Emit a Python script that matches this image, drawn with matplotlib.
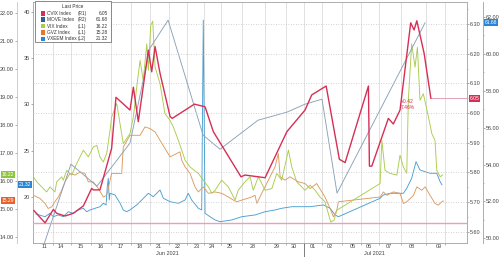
import matplotlib
matplotlib.use("Agg")
import matplotlib.pyplot as plt
import matplotlib.transforms as mtransforms
from matplotlib.patches import Rectangle
from matplotlib.ticker import FixedLocator, MultipleLocator, FormatStrFormatter

plt.rcParams["font.family"] = ["Liberation Sans", "DejaVu Sans"]

# x axis: trading-session time in day units from the left edge of the chart
day_ticks = [0.56, 1.42, 2.43, 3.44, 4.46, 5.42, 6.38, 7.34, 8.30, 9.06, 9.97,
             11.14, 12.35, 13.22, 14.18, 15.04, 16.20, 17.01, 18.03, 19.19, 20.56]
day_labels = ["11", "14", "15", "16", "17", "18", "21", "22", "23", "24", "25",
              "28", "29", "30", "01", "02", "05", "06", "07", "08", "09"]
month_labels = ["Jun 2021", "Jul 2021"]
month_centres = [6.78, 17.27]
month_break = 13.70
x_end = 21.97

# CVIX Index (R1)
cvix_x = [0.05, 0.61, 1.03, 1.20, 1.62, 2.04, 2.55, 2.97, 3.05, 3.39, 3.98, 4.20,
          4.91, 5.08, 5.33, 5.84, 6.01, 6.18, 6.43, 6.94, 7.05, 8.17, 8.71, 9.13,
          10.53, 10.73, 11.75, 12.85, 13.77, 14.11, 14.84, 15.51, 15.80, 16.98,
          17.03, 17.15, 17.99, 18.24, 18.58, 19.12, 19.29, 19.43, 19.80, 20.14]
cvix_y = [5.671, 5.630, 5.675, 5.662, 5.653, 5.662, 5.687, 5.746, 5.741, 5.741,
          5.881, 6.053, 6.010, 6.087, 5.971, 6.212, 6.139, 6.224, 6.134, 5.988,
          5.982, 6.030, 6.021, 5.937, 5.785, 5.791, 5.782, 5.937, 6.010, 6.061,
          6.091, 5.844, 5.833, 6.091, 5.821, 5.821, 5.982, 5.963, 6.010, 6.304,
          6.280, 6.311, 6.201, 6.05]
cvix_base = 5.63

# MOVE Index (R2) - daily closes
move_x = [0.51, 1.92, 3.24, 4.91, 5.92, 6.84, 8.61, 9.47, 11.39, 12.86, 13.77,
          14.63, 15.39, 19.85]
move_y = [49.53, 54.02, 52.83, 55.16, 60.30, 61.82, 55.59, 54.83, 56.40, 56.84,
          57.27, 57.54, 52.45, 61.68]

# VIX Index (L1)
vix_x = [0.02, 0.19, 0.44, 0.69, 0.86, 1.11, 1.20, 1.45, 1.53, 1.71, 1.96, 2.21,
         2.38, 2.55, 2.80, 3.05, 3.23, 3.39, 3.56, 3.73, 3.90, 3.98, 4.24, 4.57,
         4.91, 5.08, 5.25, 5.42, 5.58, 5.76, 5.84, 5.96, 6.06, 6.18, 6.43, 6.68,
         6.94, 7.10, 7.36, 7.53, 7.70, 7.95, 8.37, 8.62, 8.88, 9.05, 9.22, 9.55,
         9.89, 10.23, 10.39, 10.73, 10.99, 11.15, 11.41, 11.75, 12.09, 12.34,
         12.59, 12.93, 13.10, 13.35, 13.77, 14.03, 14.28, 14.53, 14.78, 14.95,
         15.07, 15.24, 15.38, 17.57, 17.66, 17.82, 18.08, 18.42, 18.58, 18.75,
         18.92, 19.00, 19.17, 19.34, 19.46, 19.59, 19.76, 20.02, 20.19, 20.35,
         20.44, 20.61, 20.74]
vix_y = [16.15, 15.97, 15.79, 15.61, 15.79, 15.61, 15.97, 16.15, 16.03, 16.38,
         16.21, 16.62, 16.86, 17.10, 16.86, 17.21, 17.27, 16.86, 16.68, 16.98,
         17.81, 18.28, 18.76, 17.33, 17.69, 18.28, 19.35, 20.30, 19.59, 20.89,
         19.94, 21.54, 21.70, 20.06, 19.47, 18.40, 18.16, 17.93, 17.45, 17.10,
         16.74, 16.50, 16.27, 16.03, 15.79, 15.56, 15.67, 16.03, 15.79, 15.32,
         15.67, 15.97, 16.15, 15.67, 16.15, 15.67, 15.73, 16.27, 16.03, 17.10,
         16.50, 15.97, 15.67, 15.85, 15.67, 15.43, 15.26, 14.84, 14.54, 14.60,
         14.96, 15.91, 17.45, 16.38, 16.27, 16.21, 16.92, 16.50, 16.27, 18.88,
         20.89, 20.06, 20.77, 18.88, 19.11, 18.28, 17.69, 17.45, 16.38, 16.15,
         16.22]

# GVZ Index (L1)
gvz_x = [0.02, 0.35, 0.61, 0.77, 0.95, 1.11, 1.28, 1.45, 1.62, 1.87, 2.13, 2.38,
         2.63, 2.80, 3.05, 3.31, 3.56, 3.73, 3.98, 4.49, 4.57, 4.91, 5.42, 5.67,
         5.92, 6.18, 6.43, 6.68, 6.94, 7.44, 7.53, 7.70, 7.95, 8.20, 8.37, 8.62,
         8.88, 9.22, 9.55, 9.89, 10.14, 10.31, 11.07, 11.24, 11.33, 11.58, 12.25,
         12.42, 12.51, 12.76, 13.01, 13.43, 13.77, 14.03, 14.36, 14.62, 14.78,
         15.04, 15.21, 15.38, 15.46, 17.57, 17.74, 17.91, 18.24, 18.58, 18.75,
         18.92, 19.26, 19.43, 19.68, 19.85, 20.10, 20.35, 20.52, 20.69, 20.77]
gvz_y = [15.49, 15.38, 15.20, 15.02, 15.08, 15.26, 15.43, 15.67, 15.97, 16.27,
         16.21, 16.32, 16.27, 15.97, 15.97, 15.73, 15.43, 15.49, 16.27, 16.27,
         17.21, 17.63, 17.63, 17.93, 17.87, 17.75, 17.45, 17.16, 16.86, 17.04,
         16.74, 16.50, 16.27, 15.79, 15.61, 15.79, 15.56, 15.61, 15.56, 15.43,
         15.32, 15.26, 15.43, 15.49, 15.20, 15.56, 16.50, 16.98, 16.15, 16.03,
         16.15, 15.97, 15.91, 15.73, 15.91, 15.61, 15.43, 15.02, 14.72, 14.96,
         15.26, 15.43, 15.61, 15.49, 15.61, 15.56, 15.20, 15.26, 15.49, 15.79,
         15.67, 15.79, 15.49, 15.20, 15.14, 15.26, 15.29]

# VXEEM Index (L2)
vxeem_x = [0.15, 0.61, 0.86, 1.03, 1.28, 1.53, 1.79, 2.04, 2.29, 2.55, 2.72, 2.89,
           3.14, 3.39, 3.56, 3.70, 3.76, 3.81, 3.86, 3.90, 4.15, 4.41, 4.57, 4.74,
           4.91, 5.25, 5.42, 5.84, 6.09, 6.43, 6.60, 6.94, 7.36, 7.70, 7.86, 8.03,
           8.37, 8.54, 8.62, 8.71, 8.96, 9.22, 9.47, 10.06, 10.57, 11.24, 11.75,
           12.25, 12.59, 13.10, 13.77, 14.03, 14.70, 15.04, 15.29, 15.46, 17.57,
           17.74, 18.08, 18.42, 18.75, 18.92, 19.17, 19.39, 19.59, 19.85, 20.10,
           20.44, 20.61, 20.70]
vxeem_y = [18.16, 17.87, 18.24, 17.87, 18.06, 17.87, 18.41, 18.24, 18.60, 18.78,
           18.41, 18.60, 18.78, 18.95, 19.32, 19.14, 21.11, 22.02, 19.68, 20.40,
           20.22, 19.32, 18.60, 18.41, 18.60, 19.14, 19.49, 20.40, 20.03, 20.76,
           19.86, 19.49, 19.32, 19.68, 20.40, 19.68, 18.78, 18.60, 39.11, 18.24,
           17.87, 17.52, 17.33, 17.52, 17.87, 18.06, 18.41, 18.60, 18.78, 18.95,
           18.95, 18.95, 19.14, 18.78, 18.06, 17.87, 19.86, 20.22, 20.40, 20.40,
           20.40, 20.94, 22.02, 23.81, 22.92, 22.73, 22.56, 22.56, 21.65, 21.32]

legend_names = ["CVIX Index", "MOVE Index", "VIX Index", "GVZ Index", "VXEEM Index"]
legend_axes = ["(R1)", "(R2)", "(L1)", "(L1)", "(L2)"]
legend_last = ["6.05", "61.68", "16.22", "15.28", "21.32"]

C_CVIX = "#d62f55"
C_MOVE = "#8ba1b7"
C_MOVE_KEY = "#2f5f9f"
C_VIX = "#a9cc4c"
C_VIX_TAG = "#8cc63e"
C_GVZ = "#dd9a5e"
C_GVZ_KEY = "#e8772a"
C_GVZ_TAG = "#e8602c"
C_VXEEM = "#4a9fd2"
C_VXEEM_TAG = "#2a85d4"
C_PINK = "#e6a3b4"
FS = 4.0

fig = plt.figure(figsize=(5.0, 2.57), dpi=100)
fig.patch.set_facecolor("white")
ax = fig.add_axes([0.066, 0.0545, 0.868, 0.9375])   # L2 (inner left)
ax_l1 = ax.twinx()                                     # L1 (outer left)
ax_r2 = ax.twinx()                                     # R2 (outer right)
ax_r1 = ax.twinx()                                     # R1 (inner right)

ax.set_xlim(0, x_end)
ax.set_ylim(15.03, 41.06)
ax_l1.set_ylim(13.79, 22.38)
ax_r1.set_ylim(5.562, 6.374)
ax_r2.set_ylim(49.75, 62.80)

# spines
for a in (ax_l1, ax_r1, ax_r2):
    for s in a.spines.values():
        s.set_visible(False)
for s in ax.spines.values():
    s.set_color("#a0a0a0")
    s.set_linewidth(0.6)
ax_l1.yaxis.tick_left()
ax_l1.spines["left"].set_visible(True)
ax_l1.spines["left"].set_position(("outward", 11.5))
ax_l1.spines["left"].set_color("#c9d27e")
ax_l1.spines["left"].set_linewidth(0.6)
ax_r1.spines["right"].set_visible(True)
ax_r1.spines["right"].set_color("#c9a3ae")
ax_r1.spines["right"].set_linewidth(0.6)
ax_r2.spines["right"].set_visible(True)
ax_r2.spines["right"].set_position(("outward", 11.5))
ax_r2.spines["right"].set_color("#8fa3b5")
ax_r2.spines["right"].set_linewidth(0.6)

# y ticks
ax.yaxis.set_major_locator(FixedLocator([20, 25, 30, 35, 40]))
ax.yaxis.set_major_formatter(FormatStrFormatter("%d"))
ax_l1.yaxis.set_major_locator(MultipleLocator(1))
ax_l1.yaxis.set_major_formatter(FormatStrFormatter("%.2f"))
ax_r1.yaxis.set_major_locator(MultipleLocator(0.1))
ax_r1.yaxis.set_minor_locator(MultipleLocator(0.05))
ax_r1.yaxis.set_major_formatter(FormatStrFormatter("%.2f"))
ax_r2.yaxis.set_major_locator(MultipleLocator(2))
ax_r2.yaxis.set_minor_locator(MultipleLocator(1))
ax_r2.yaxis.set_major_formatter(FormatStrFormatter("%.2f"))
for a in (ax, ax_l1, ax_r1, ax_r2):
    a.tick_params(axis="y", which="major", labelsize=FS, length=1.5, width=0.5,
                  pad=0.8, colors="#888888", labelcolor="#444444")
    a.tick_params(axis="y", which="minor", length=1.0, width=0.4, colors="#888888")

# x ticks
ax.set_xticks(day_ticks)
ax.set_xticklabels(day_labels)
grid_x = [(a + b) / 2 for a, b in zip(day_ticks[:-1], day_ticks[1:])] + [20.86]
ax.set_xticks(grid_x, minor=True)
ax.tick_params(axis="x", which="major", length=0, labelsize=FS, pad=1.0,
               labelcolor="#444444")
ax.tick_params(axis="x", which="minor", length=1.5, width=0.5, colors="#999999")
xt = mtransforms.blended_transform_factory(ax.transData, ax.transAxes)
for lab, xc in zip(month_labels, month_centres):
    ax.text(xc, -0.034, lab, transform=xt, ha="center", va="top", fontsize=FS,
            color="#444444")
ax.plot([month_break, month_break], [0, -0.07], transform=xt, clip_on=False,
        color="#666666", lw=0.6)

# grid
for gx in grid_x:
    ax.axvline(gx, color="#dcdcdc", lw=0.6, zorder=0)
for gy in [5.6, 5.7, 5.8, 5.9, 6.0, 6.1, 6.2, 6.3]:
    ax_r1.axhline(gy, color="#c4c4c4", lw=0.6, ls=(0, (1, 2)), zorder=0)

# series
ax.plot(vxeem_x, vxeem_y, color=C_VXEEM, lw=0.65)
ax_l1.plot(gvz_x, gvz_y, color=C_GVZ, lw=0.65)
ax_l1.plot(vix_x, vix_y, color=C_VIX, lw=0.65)
ax_r2.plot(move_x, move_y, color=C_MOVE, lw=0.65)
ax_r1.axhline(cvix_base, color=C_PINK, lw=1.0)
ax_r1.plot([cvix_x[-1], x_end], [cvix_y[-1], cvix_y[-1]], color=C_PINK, lw=0.7)
ax_r1.plot(cvix_x, cvix_y, color=C_CVIX, lw=1.0)
chg = cvix_y[-1] - cvix_base
ax_r1.text(18.6, 6.046, f"+{chg:.2f}\n{chg / cvix_base * 100:.2f}%",
           fontsize=3.6, color=C_CVIX, va="top", ha="left", linespacing=1.1)


# last-price tags on the axes
def tag(a, xfrac, y, text, color):
    tr = mtransforms.blended_transform_factory(a.transAxes, a.transData)
    a.text(xfrac, y, text, transform=tr, ha="center", va="center", fontsize=3.6,
           color="white", clip_on=False, zorder=20,
           bbox=dict(boxstyle="square,pad=0.2", fc=color, ec="none"))


tag(ax_l1, -0.0576, 16.22, "16.22", C_VIX_TAG)
tag(ax_l1, -0.0576, 15.29, "15.29", C_GVZ_TAG)
tag(ax, -0.0184, 21.32, "21.32", C_VXEEM_TAG)
tag(ax_r1, 1.0173, 6.05, "6.05", C_CVIX)
tag(ax_r2, 1.0555, 61.68, "61.68", C_VXEEM_TAG)

# legend box (drawn at figure level so it sits above all four axes)
W, H = 500.0, 257.0
LFS = 3.4
fig.add_artist(Rectangle((35 / W, 1 - 42 / H), 76 / W, 41 / H, transform=fig.transFigure,
                         facecolor="white", edgecolor="#777777", lw=0.6, zorder=10))
fig.text(73 / W, 1 - 7 / H, "Last Price", ha="center", va="center", fontsize=LFS,
         color="#333333", zorder=11)
key_colors = [C_CVIX, C_MOVE_KEY, C_VIX, C_GVZ_KEY, C_VXEEM_TAG]
for i, (nm, axn, val, kc) in enumerate(zip(legend_names, legend_axes, legend_last,
                                           key_colors)):
    yy = 1 - (13.3 + 6.4 * i) / H
    fig.add_artist(Rectangle((40.5 / W, yy - 2.2 / H), 4.4 / W, 4.4 / H,
                             transform=fig.transFigure, facecolor=kc,
                             edgecolor="none", zorder=11))
    fig.text(47 / W, yy, nm, ha="left", va="center", fontsize=LFS,
             color="#333333", zorder=11)
    fig.text(78 / W, yy, axn, ha="left", va="center", fontsize=LFS,
             color="#333333", zorder=11)
    fig.text(108 / W, yy, val, ha="right", va="center", fontsize=LFS,
             color="#333333", zorder=11)

fig.savefig("out.png", dpi=100, facecolor="white")
